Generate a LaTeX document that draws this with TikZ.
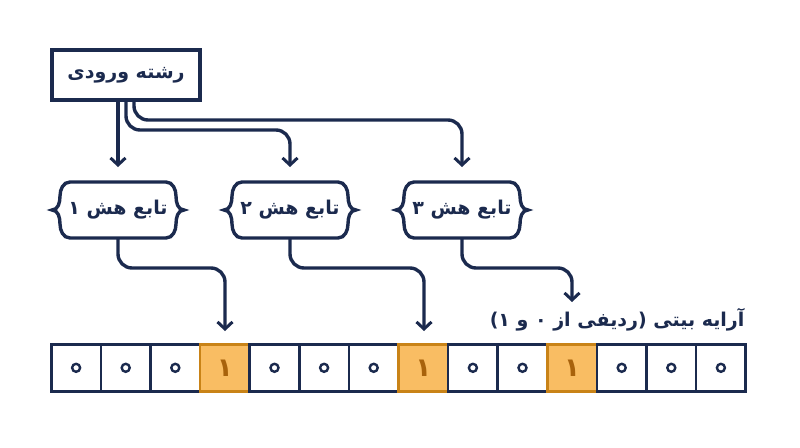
\documentclass[tikz,border=0pt]{standalone}
\usepackage{fontspec}
\usetikzlibrary{arrows.meta}
\newfontfamily\fa[Script=Arabic]{DejaVu Sans}
\TeXXeTstate=1
\newcommand{\rtl}[1]{{\fa\bfseries\beginR #1\endR}}
\definecolor{navy}{HTML}{1B2A4E}
\definecolor{ofill}{HTML}{F9BD63}
\definecolor{oline}{HTML}{C98317}
\definecolor{odig}{HTML}{A8620C}
\begin{document}
\begin{tikzpicture}[x=1pt,y=-1pt,
  ln/.style={navy,line width=3.4pt,rounded corners=14pt},
  ar/.style={ln,-{Straight Barb[length=7pt,width=15pt,line width=3pt]}},
  cell/.style={draw=navy,line width=2.6pt,fill=white,minimum width=49.6pt,minimum height=47pt,inner sep=0pt,anchor=north west},
  hcell/.style={cell,draw=oline,fill=ofill,text=odig},
  txt/.style={text=navy,font=\fontsize{19}{22}\selectfont}]
\fill[white] (0,0) rectangle (800,447);
\useasboundingbox (0,0) rectangle (800,447);
% input box
\node[draw=navy,line width=3.4pt,fill=white,minimum width=148pt,minimum height=50pt,txt] (in) at (126,75) {\rtl{رشته ورودی}};
% hash functions
\foreach \i/\x/\d in {1/118/۱,2/290/۲,3/462/۳}{
  \draw[navy,line width=3.4pt,fill=white]
    (\x-48,182) -- (\x+48,182) to[out=0,in=90] (\x+58,196) to[out=-90,in=180] (\x+66,210)
    to[out=180,in=90] (\x+58,224) to[out=-90,in=0] (\x+48,238) -- (\x-48,238)
    to[out=180,in=-90] (\x-58,224) to[out=90,in=0] (\x-66,210) to[out=0,in=-90] (\x-58,196)
    to[out=90,in=180] (\x-48,182) -- cycle;
  \node[txt] (h\i) at (\x,210) {\rtl{تابع هش \d}};
  \coordinate (hb\i) at (\x,238);
}
% arrows from input
\draw[ar] (118,100) -- (118,167);
\draw[ar] (126,100) -- (126,130) -- (290,130) -- (290,167);
\draw[ar] (134,100) -- (134,120) -- (462,120) -- (462,167);
% array
\foreach \k in {0,...,13}{
  \pgfmathsetmacro{\xx}{50+49.6*\k}
  \ifnum\k=3 \node[hcell] (c\k) at (\xx,343) {\fontsize{26}{28}\selectfont\rtl{۱}};
  \else\ifnum\k=7 \node[hcell] (c\k) at (\xx,343) {\fontsize{26}{28}\selectfont\rtl{۱}};
  \else\ifnum\k=10 \node[hcell] (c\k) at (\xx,343) {\fontsize{26}{28}\selectfont\rtl{۱}};
  \else \node[cell] (c\k) at (\xx,343) {};
  \draw[navy,line width=2.4pt] (c\k.center) circle (4pt);
  \fi\fi\fi
}
% arrows from hashes
\draw[ar] (hb1) -- (118,268) -- (225,268) -- (225,331);
\draw[ar] (hb2) -- (290,268) -- (424,268) -- (424,331);
\draw[ar] (hb3) -- (462,268) -- (572,268) -- (572,302);
\node[txt,anchor=east] (lbl) at (748,320) {\rtl{آرایه بیتی (ردیفی از ۰ و ۱)}};
\end{tikzpicture}
\end{document}
